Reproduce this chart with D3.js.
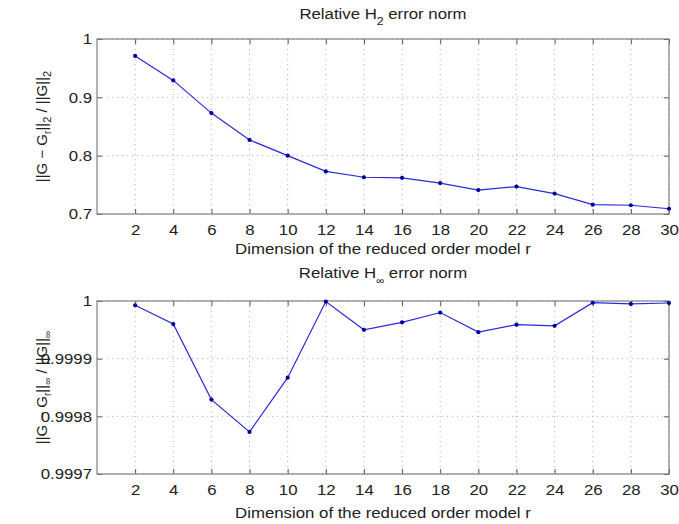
<!DOCTYPE html>
<html>
<head>
<meta charset="utf-8">
<script src="https://cdn.jsdelivr.net/npm/d3@7"></script>
<style>
body{margin:0;background:#fff}
svg{display:block}
text{font-family:"Liberation Sans",Arial,sans-serif;fill:#222}
.wide{transform-box:fill-box;transform-origin:center;transform:scaleX(1.12)}
.wideR{transform-box:fill-box;transform-origin:right center;transform:scaleX(1.12)}
.grid line{stroke:#b5b5b5;stroke-width:1;stroke-dasharray:1.2,3.8}
</style>
</head>
<body>
<script>
// reduced order model dimensions
var dims = [2, 4, 6, 8, 10, 12, 14, 16, 18, 20, 22, 24, 26, 28, 30];
// relative H2 error norm
var h2Err = [0.971, 0.929, 0.873, 0.827, 0.800, 0.773, 0.763, 0.762, 0.753, 0.741, 0.747, 0.735, 0.716, 0.715, 0.709];
// relative H-infinity error norm
var hinfErr = [0.9999925, 0.99996, 0.999829, 0.999773, 0.999867, 0.999999, 0.99995, 0.999963, 0.99998, 0.999946, 0.999959, 0.999957, 0.999997, 0.999995, 0.9999965];
var h2Ticks = [0.7, 0.8, 0.9, 1];
var hinfTicks = [0.9997, 0.9998, 0.9999, 1];

var width = 679, height = 524;
var left = 97, right = 669;

var svg = d3.select("body").append("svg")
    .attr("width", width)
    .attr("height", height);

svg.append("rect").attr("width", width).attr("height", height).attr("fill", "#fff");

var x = d3.scaleLinear().domain([0, 30]).range([left, right]);

function drawPanel(p){
    var y = d3.scaleLinear().domain(p.domain).range([p.bottom, p.top]);
    var g = svg.append("g");

    //dotted grid
    var grid = g.append("g").attr("class", "grid");
    grid.selectAll(".gx").data(dims).enter().append("line")
        .attr("x1", function(d){ return x(d); })
        .attr("x2", function(d){ return x(d); })
        .attr("y1", p.top).attr("y2", p.bottom);
    grid.selectAll(".gy").data(p.ticks).enter().append("line")
        .attr("x1", left).attr("x2", right)
        .attr("y1", function(d){ return y(d); })
        .attr("y2", function(d){ return y(d); });

    //axes with inward ticks
    var xb = g.append("g").attr("transform", "translate(0," + p.bottom + ")")
        .call(d3.axisBottom(x).tickValues(dims).tickSize(-5).tickSizeOuter(0).tickPadding(10));
    var xt = g.append("g").attr("transform", "translate(0," + p.top + ")")
        .call(d3.axisTop(x).tickValues(dims).tickSize(-5).tickSizeOuter(0).tickFormat(""));
    var yl = g.append("g").attr("transform", "translate(" + left + ",0)")
        .call(d3.axisLeft(y).tickValues(p.ticks).tickSize(-5).tickSizeOuter(0).tickPadding(5)
            .tickFormat(function(d){ return String(+d.toFixed(4)); }));
    var yr = g.append("g").attr("transform", "translate(" + right + ",0)")
        .call(d3.axisRight(y).tickValues(p.ticks).tickSize(-5).tickSizeOuter(0).tickFormat(""));

    [xb, xt, yl, yr].forEach(function(a){
        a.attr("font-family", null).attr("font-size", 15);
        a.select(".domain").remove();
        a.selectAll(".tick line").attr("stroke", "#555");
    });
    xb.selectAll(".tick text").attr("class", "wide").attr("fill", "#222");
    yl.selectAll(".tick text").attr("class", "wideR").attr("fill", "#222");

    //box
    g.append("rect")
        .attr("x", left).attr("y", p.top)
        .attr("width", right - left).attr("height", p.bottom - p.top)
        .attr("fill", "none").attr("stroke", "#808080").attr("stroke-width", 1.2);

    //series
    var line = d3.line()
        .x(function(d, i){ return x(dims[i]); })
        .y(function(d){ return y(d); });
    g.append("path").datum(p.values)
        .attr("d", line)
        .attr("fill", "none")
        .attr("stroke", "#2a2ad8")
        .attr("stroke-width", 1.2);
    g.selectAll(".dot").data(p.values).enter().append("circle")
        .attr("cx", function(d, i){ return x(dims[i]); })
        .attr("cy", function(d){ return y(d); })
        .attr("r", 2.1)
        .attr("fill", "#00009c");

    //x label
    g.append("text").attr("class", "wide")
        .attr("x", (left + right) / 2).attr("y", p.xlabY)
        .attr("text-anchor", "middle").attr("font-size", 15)
        .text("Dimension of the reduced order model r");

    //title
    var t = g.append("text").attr("class", "wide")
        .attr("x", (left + right) / 2).attr("y", p.titleY)
        .attr("text-anchor", "middle").attr("font-size", 15);
    t.append("tspan").text("Relative H");
    t.append("tspan").attr("font-size", p.subSize).attr("dy", 6).text(p.sub);
    t.append("tspan").attr("dy", -6).text(" error norm");

    //y label
    var yt = g.append("text")
        .attr("transform", "translate(47," + ((p.top + p.bottom) / 2) + ") rotate(-90)")
        .attr("text-anchor", "middle").attr("font-size", 15);
    yt.append("tspan").text("||G \u2212 G");
    yt.append("tspan").attr("font-size", 10).attr("dy", 4).text("r");
    yt.append("tspan").attr("dy", -4).text("||");
    yt.append("tspan").attr("font-size", p.subSize).attr("dy", 4).text(p.sub);
    yt.append("tspan").attr("dy", -4).text(" / ||G||");
    yt.append("tspan").attr("font-size", p.subSize).attr("dy", 4).text(p.sub);
}

drawPanel({top: 39, bottom: 214, domain: [0.7, 1], ticks: h2Ticks, values: h2Err,
    sub: "2", subSize: 11, titleY: 19, xlabY: 254});
drawPanel({top: 301, bottom: 474, domain: [0.9997, 1], ticks: hinfTicks, values: hinfErr,
    sub: "\u221e", subSize: 10, titleY: 278, xlabY: 518});
</script>
</body>
</html>
